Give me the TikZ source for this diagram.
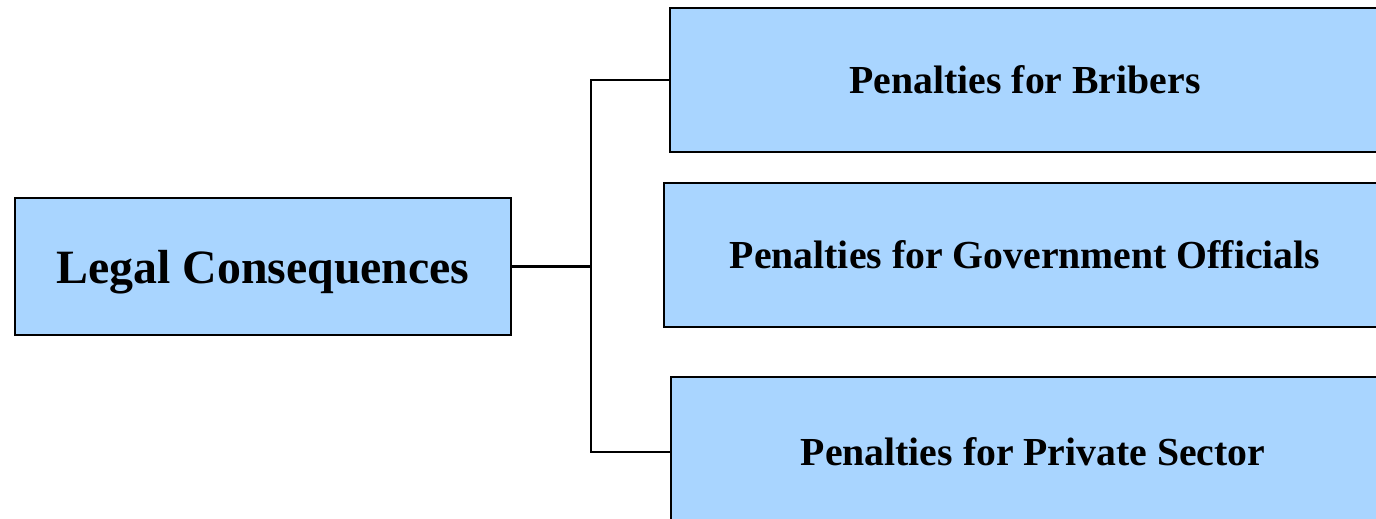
\documentclass[tikz,border=0pt]{standalone}
\usepackage{fontspec}
\setmainfont{Liberation Serif}
\definecolor{boxblue}{RGB}{169,213,255}
\tikzset{
  pbox/.style={draw=black, fill=boxblue, line width=0.6pt, inner sep=0pt, font=\bfseries\fontsize{11.3}{13}\selectfont},
  link/.style={line width=0.6pt}
}
\begin{document}
\begin{tikzpicture}[x=0.01cm,y=-0.01cm]
\clip (0,0) rectangle (1376,518);

\node[pbox, minimum width=4.96cm, minimum height=1.37cm, text depth=0pt, font=\bfseries\fontsize{13.6}{16}\selectfont] (legal) at (263,266.5) {Legal Consequences};

\node[pbox, minimum width=7.10cm, minimum height=1.44cm] (bribers) at (1025,80) {Penalties for Bribers};
\node[pbox, minimum width=7.22cm, minimum height=1.44cm] (officials) at (1025,255) {Penalties for Government Officials};
\node[pbox, minimum width=7.24cm, minimum height=1.50cm] (private) at (1033,452) {Penalties for Private Sector};

\coordinate (fork) at (592,266.5);
\draw[link] (legal.east) -- (fork);
\draw[link] (bribers.west) -| (591,266) |- (private.west);
\end{tikzpicture}
\end{document}
